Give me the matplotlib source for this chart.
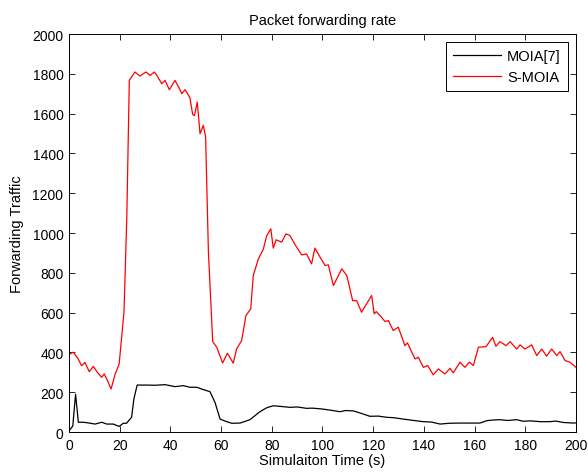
import matplotlib
matplotlib.use('Agg')
import matplotlib.pyplot as plt

plt.rcParams['font.family'] = ['Liberation Sans', 'DejaVu Sans']

# values
t_moia = [0, 1.5, 2.6, 3.7, 5.8, 8, 10.3, 12.9, 14.9, 17.5, 19.8, 21.4, 22.7, 24.7,
          25.6, 26.9, 30.6, 34, 37.9, 41.8, 45.1, 47.7, 50.4, 53, 55.6, 57.6, 59.6,
          62.2, 64.2, 67.5, 71.4, 75.3, 78, 80.6, 84, 87.2, 90, 93.7, 96, 99.7,
          103, 106.9, 109, 112.2, 115, 118.7, 122, 125.3, 128, 131.9, 136, 139.8,
          143, 146.4, 150, 154.2, 158, 162.1, 164.8, 167, 170, 173, 176.6, 179.2,
          182, 186, 189.7, 192, 195, 199, 200]
moia = [5, 30, 190, 49, 49, 45, 40, 49, 40, 40, 28, 44, 44, 74,
        166, 236, 236, 235, 238, 228, 233, 225, 225, 213, 203, 149, 65,
        52, 44, 45, 62, 102, 122, 132, 128, 124, 126, 119, 120, 116,
        110, 102, 108, 106, 95, 79, 80, 74, 72, 65, 58, 52,
        50, 40, 44, 45, 45, 45, 57, 60, 62, 58, 62, 54,
        56, 52, 52, 55, 48, 45, 46]

t_smoia = [0, 1.7, 3.5, 5, 6.3, 8, 9.6, 11.2, 12.9, 13.9, 15.3, 16.6, 18.2, 19.8,
           21.7, 22.8, 23.8, 26, 28, 30.4, 32, 33.7, 35, 36.6, 37.9, 39.6, 41.8,
           43.2, 44.5, 45.8, 47.7, 48.8, 49.5, 50.6, 51.7, 53, 53.9, 55, 56.7,
           58.3, 60.6, 62.5, 64.8, 66.1, 68.1, 69.8, 71.7, 72.7, 74.7, 76.7, 78,
           79.6, 80.6, 81.7, 83.9, 85.6, 87.2, 89.2, 91.8, 93.7, 95.7, 97, 99,
           101, 102.3, 104.3, 107.6, 109.6, 111.9, 113.5, 115.4, 117.4, 119.4,
           120.4, 121.2, 122.7, 124.7, 126, 127.9, 129.9, 132.5, 133.5, 136.5,
           137.8, 139.8, 141.5, 143.7, 145.7, 148.3, 150.3, 151.6, 154.2, 156.2,
           157.9, 159.5, 161.5, 164.5, 167.1, 168.4, 170, 172.4, 174, 176.6,
           177.9, 179.9, 182.5, 184.5, 186.5, 188.4, 190.4, 192.4, 193.7, 195.7,
           197.6, 200]
smoia = [390, 401, 370, 333, 350, 303, 330, 300, 275, 292, 255, 216, 290, 342,
         603, 1071, 1767, 1809, 1789, 1809, 1792, 1809, 1785, 1750, 1767, 1720, 1767,
         1735, 1700, 1720, 1680, 1595, 1590, 1658, 1499, 1541, 1482, 905, 454,
         426, 347, 396, 346, 417, 459, 585, 619, 786, 870, 920, 987,
         1021, 924, 966, 954, 996, 987, 941, 890, 895, 845, 924, 880,
         837, 840, 736, 820, 786, 660, 660, 602, 644, 686,
         594, 605, 585, 555, 560, 510, 527, 434, 448, 367,
         376, 325, 334, 287, 317, 292, 320, 297, 351, 325,
         351, 334, 426, 429, 476, 431, 454, 434, 454, 417,
         438, 417, 438, 384, 417, 381, 417, 384, 404, 359,
         351, 325]

fig = plt.figure(figsize=(5.88, 4.77), dpi=100)
ax = fig.add_axes([0.1173, 0.0922, 0.8623, 0.8344])

ax.plot(t_moia, moia, color='black', lw=0.9, label='MOIA[7]')
ax.plot(t_smoia, smoia, color='red', lw=0.9, label='S-MOIA')

ax.set_xlim(0, 200)
ax.set_ylim(0, 2000)
ax.set_xticks(range(0, 201, 20))
ax.set_yticks(range(0, 2001, 200))
ax.tick_params(direction='in', top=True, right=True, labelsize=10, length=4,
               width=0.6, pad=4)
for s in ax.spines.values():
    s.set_linewidth(0.7)

ax.set_title('Packet forwarding rate', fontsize=10.5, pad=7)
ax.set_xlabel('Simulaiton Time (s)', fontsize=10.5, labelpad=1)
ax.set_ylabel('Forwarding Traffic', fontsize=10.5, labelpad=6)

leg = ax.legend(loc='upper right', fontsize=10.5, fancybox=False, framealpha=1,
                edgecolor='black', handlelength=3.3, handletextpad=0.4,
                borderaxespad=0.55, borderpad=0.5, labelspacing=0.45)
leg.get_frame().set_linewidth(0.7)

fig.savefig('out.png', dpi=100)
